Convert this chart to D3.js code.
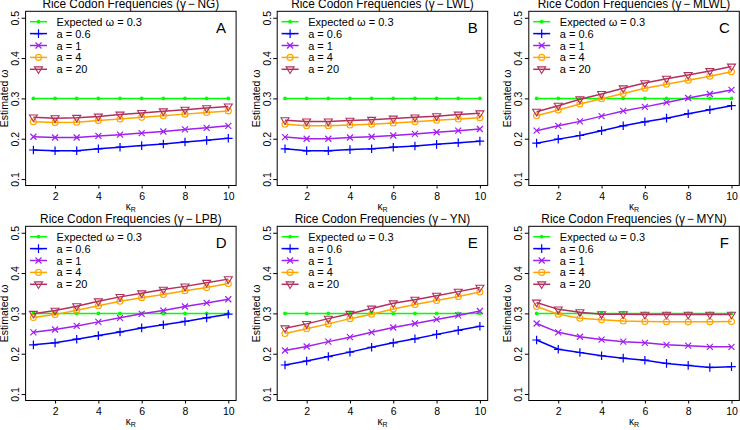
<!DOCTYPE html>
<html>
<head>
<meta charset="utf-8">
<script src="https://cdn.jsdelivr.net/npm/d3@7"></script>
<style>
  body { margin: 0; background: #fff; }
  svg { font-family: "Liberation Sans", Arial, sans-serif; }
</style>
</head>
<body>
<div id="chart"></div>
<script>
const kappa = [1, 2, 3, 4, 5, 6, 7, 8, 9, 10];
const expected = [0.3, 0.3, 0.3, 0.3, 0.3, 0.3, 0.3, 0.3, 0.3, 0.3];

const panelTitles = ["NG", "LWL", "MLWL", "LPB", "YN", "MYN"];
const panelLetters = ["A", "B", "C", "D", "E", "F"];
const legendLabels = ["Expected \u03c9 = 0.3", "a = 0.6", "a = 1", "a = 4", "a = 20"];
const yTicks = [0.1, 0.2, 0.3, 0.4, 0.5];
const xTicks = [2, 4, 6, 8, 10];

// rows: a = 0.6, a = 1, a = 4, a = 20
const ng = [
  [0.172, 0.170, 0.170, 0.175, 0.179, 0.183, 0.187, 0.192, 0.196, 0.201],
  [0.205, 0.203, 0.203, 0.207, 0.210, 0.214, 0.218, 0.223, 0.227, 0.232],
  [0.242, 0.240, 0.241, 0.245, 0.249, 0.253, 0.257, 0.261, 0.265, 0.269],
  [0.253, 0.251, 0.252, 0.255, 0.260, 0.264, 0.268, 0.272, 0.276, 0.280]
];
const lwl = [
  [0.175, 0.170, 0.170, 0.173, 0.175, 0.179, 0.182, 0.186, 0.190, 0.194],
  [0.204, 0.200, 0.200, 0.203, 0.205, 0.208, 0.212, 0.216, 0.220, 0.224],
  [0.236, 0.232, 0.232, 0.234, 0.236, 0.239, 0.242, 0.246, 0.249, 0.252],
  [0.246, 0.243, 0.243, 0.245, 0.247, 0.250, 0.253, 0.256, 0.260, 0.263]
];
const mlwl = [
  [0.189, 0.199, 0.208, 0.220, 0.232, 0.242, 0.251, 0.262, 0.272, 0.282],
  [0.220, 0.232, 0.243, 0.256, 0.269, 0.279, 0.290, 0.301, 0.311, 0.321],
  [0.257, 0.271, 0.286, 0.299, 0.312, 0.325, 0.335, 0.345, 0.355, 0.366],
  [0.267, 0.282, 0.298, 0.311, 0.325, 0.338, 0.349, 0.358, 0.368, 0.379]
];
const lpb = [
  [0.222, 0.227, 0.236, 0.245, 0.254, 0.264, 0.272, 0.280, 0.289, 0.298],
  [0.253, 0.260, 0.269, 0.279, 0.289, 0.299, 0.307, 0.317, 0.326, 0.335],
  [0.290, 0.297, 0.308, 0.319, 0.330, 0.339, 0.347, 0.356, 0.364, 0.374],
  [0.299, 0.307, 0.318, 0.330, 0.341, 0.350, 0.359, 0.367, 0.376, 0.385]
];
const yn = [
  [0.172, 0.182, 0.193, 0.204, 0.216, 0.227, 0.237, 0.248, 0.258, 0.268],
  [0.208, 0.218, 0.230, 0.241, 0.253, 0.265, 0.275, 0.285, 0.295, 0.306],
  [0.250, 0.262, 0.274, 0.287, 0.298, 0.311, 0.322, 0.332, 0.342, 0.353],
  [0.263, 0.274, 0.287, 0.299, 0.312, 0.325, 0.334, 0.344, 0.354, 0.364]
];
const myn = [
  [0.234, 0.211, 0.203, 0.195, 0.189, 0.184, 0.176, 0.171, 0.166, 0.168],
  [0.275, 0.253, 0.242, 0.235, 0.230, 0.227, 0.222, 0.220, 0.217, 0.217],
  [0.317, 0.298, 0.288, 0.284, 0.281, 0.280, 0.279, 0.279, 0.279, 0.280],
  [0.327, 0.310, 0.303, 0.298, 0.298, 0.297, 0.297, 0.297, 0.297, 0.297]
];
const panelData = [ng, lwl, mlwl, lpb, yn, myn];

const colors = ["#00ff00", "#0000ff", "#a020f0", "#ffa500", "#b03060"];
const shapes = ["dot", "plus", "cross", "circle", "triangle"];

const width = 740, height = 430;
const colLeft = [25.6, 277.2, 528.8];
const rowTop = [11.3, 226.3];
const plotW = 210.5, plotH = 174.2;
const titleWidth = 177;

const svg = d3.select("#chart").append("svg")
  .attr("width", width)
  .attr("height", height);

function marker(g, shape, color, cx, cy) {
  if (shape === "dot") {
    g.append("circle").attr("cx", cx).attr("cy", cy).attr("r", 1.9).attr("fill", color);
  } else if (shape === "plus") {
    g.append("path").attr("d", `M${cx - 4.3},${cy}H${cx + 4.3}M${cx},${cy - 4.3}V${cy + 4.3}`)
      .attr("stroke", color).attr("stroke-width", 1.2).attr("fill", "none");
  } else if (shape === "cross") {
    const s = 3;
    g.append("path").attr("d", `M${cx - s},${cy - s}L${cx + s},${cy + s}M${cx - s},${cy + s}L${cx + s},${cy - s}`)
      .attr("stroke", color).attr("stroke-width", 1.2).attr("fill", "none");
  } else if (shape === "circle") {
    g.append("circle").attr("cx", cx).attr("cy", cy).attr("r", 3)
      .attr("stroke", color).attr("stroke-width", 1.1).attr("fill", "none");
  } else {
    const s = 4;
    g.append("path").attr("d", `M${cx - s},${cy - s * 0.6}L${cx + s},${cy - s * 0.6}L${cx},${cy + s * 1.05}Z`)
      .attr("stroke", color).attr("stroke-width", 1.1).attr("fill", "none");
  }
}

panelData.forEach((rows, i) => {
  const left = colLeft[i % 3];
  const top = rowTop[Math.floor(i / 3)];

  const x = d3.scaleLinear().domain([0.64, 10.36]).range([left, left + plotW]);
  const y = d3.scaleLinear().domain([0.084, 0.516]).range([top + plotH, top]);

  const g = svg.append("g");

  // title, sized to the width it has in the figure
  const title = g.append("text")
    .attr("x", left + plotW / 2)
    .attr("y", top - 3)
    .attr("text-anchor", "middle")
    .attr("font-size", 12)
    .text(`Rice Codon Frequencies (\u03b3\u2009\u2212\u2009${panelTitles[i]})`);
  if (i === 0) {
    const w = title.node().getComputedTextLength();
    title.attr("font-size", 12 * titleWidth / w);
  } else {
    title.attr("font-size", svg.select("text").attr("font-size"));
  }

  // axes
  const yAxis = g.append("g")
    .attr("transform", `translate(${left},0)`)
    .call(d3.axisLeft(y).tickValues(yTicks).tickSize(4).tickFormat(d3.format(".1f")));
  yAxis.select(".domain").remove();
  yAxis.selectAll(".tick text")
    .attr("transform", "rotate(-90)")
    .attr("x", 0).attr("y", -6.6)
    .attr("dy", 0)
    .attr("text-anchor", "middle")
    .attr("font-size", 10.5)
    .attr("font-family", "Liberation Sans, Arial, sans-serif");

  const xAxis = g.append("g")
    .attr("transform", `translate(0,${top + plotH})`)
    .call(d3.axisBottom(x).tickValues(xTicks).tickSize(3));
  xAxis.select(".domain").remove();
  xAxis.selectAll(".tick text")
    .attr("y", 7).attr("dy", "0.71em")
    .attr("font-size", 10.5)
    .attr("font-family", "Liberation Sans, Arial, sans-serif");

  // axis labels
  g.append("text")
    .attr("transform", `translate(${left - 17.4},${top + plotH / 2}) rotate(-90)`)
    .attr("text-anchor", "middle")
    .attr("font-size", 10.5)
    .text("Estimated \u03c9");

  const xl = g.append("text")
    .attr("x", left + plotW / 2)
    .attr("y", top + plotH + 24.5)
    .attr("text-anchor", "middle")
    .attr("font-size", 10);
  xl.append("tspan").text("\u03ba");
  xl.append("tspan").attr("font-size", 7).attr("dy", 2).text("R");

  // series
  const line = d3.line().x((d, k) => x(kappa[k])).y(d => y(d));
  const series = [expected].concat(rows);
  series.forEach((vals, s) => {
    g.append("path")
      .datum(vals)
      .attr("d", line)
      .attr("fill", "none")
      .attr("stroke", colors[s])
      .attr("stroke-width", 1.5);
    vals.forEach((v, k) => marker(g, shapes[s], colors[s], x(kappa[k]), y(v)));
  });

  // box
  g.append("rect")
    .attr("x", left).attr("y", top)
    .attr("width", plotW).attr("height", plotH)
    .attr("fill", "none").attr("stroke", "#000").attr("stroke-width", 1);

  // legend
  legendLabels.forEach((lab, s) => {
    const ly = top + 10.4 + s * 11.9;
    g.append("line")
      .attr("x1", left + 4.4).attr("x2", left + 21.4)
      .attr("y1", ly).attr("y2", ly)
      .attr("stroke", colors[s]).attr("stroke-width", 1.5);
    marker(g, shapes[s], colors[s], left + 12.9, ly);
    g.append("text")
      .attr("x", left + 31)
      .attr("y", ly + 4)
      .attr("font-size", 11)
      .text(lab);
  });

  g.append("text")
    .attr("x", left + plotW - 15)
    .attr("y", top + 22)
    .attr("text-anchor", "middle")
    .attr("font-size", 15)
    .text(panelLetters[i]);
});
</script>
</body>
</html>
